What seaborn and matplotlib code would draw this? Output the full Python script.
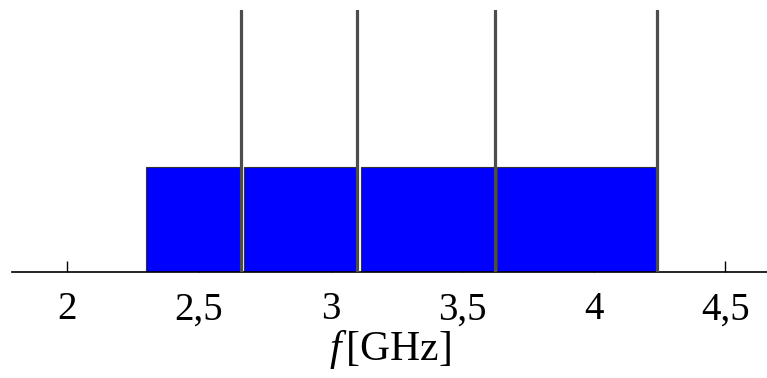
import matplotlib
matplotlib.use("Agg")
import matplotlib.pyplot as plt
import seaborn as sns
import pandas as pd

# Data (GHz)
band_start = [2.30, 2.673, 3.116, 3.634]
band_end = [2.658, 3.10, 3.626, 4.24]
band_level = [0.4, 0.4, 0.4, 0.4]
boundaries = [2.658, 3.10, 3.626, 4.24]
tick_values = [2.0, 2.5, 3.0, 3.5, 4.0, 4.5]
tick_labels = ["2", "2,5", "3", "3,5", "4", "4,5"]

df = pd.DataFrame({"start": band_start, "end": band_end, "level": band_level})
df["width"] = df["end"] - df["start"]

sns.set_theme(style="white")
plt.rcParams["font.family"] = ["Liberation Serif", "DejaVu Serif"]
plt.rcParams["mathtext.fontset"] = "custom"
plt.rcParams["mathtext.it"] = "Liberation Serif:italic"
plt.rcParams["mathtext.rm"] = "Liberation Serif"
plt.rcParams["text.color"] = "black"
plt.rcParams["xtick.color"] = "black"
plt.rcParams["axes.labelcolor"] = "black"

fig = plt.figure(figsize=(7.67, 3.78), dpi=100)
ax = fig.add_axes([12 / 767, 106 / 378, 755 / 767, 262 / 378])

ax.bar(df["start"], df["level"], width=df["width"], align="edge",
       color="#0000ff", edgecolor="#333333", linewidth=0.8, zorder=2)
for b in boundaries:
    ax.axvline(b, ymin=0, ymax=1, color="#4d4d4d", linewidth=2.3, zorder=3)

ax.set_xlim(1.79, 4.658)
ax.set_ylim(0, 1)
ax.set_yticks([])
ax.set_xticks(tick_values)
ax.set_xticklabels(tick_labels, fontsize=28, color="black")
ax.tick_params(axis="x", direction="in", length=8, width=1, color="black",
               pad=14, bottom=True)
for s in ["top", "right", "left"]:
    ax.spines[s].set_visible(False)
ax.spines["bottom"].set_color("black")
ax.spines["bottom"].set_linewidth(1.2)
ax.set_xlabel("$f\\,$[GHz]", fontsize=30, labelpad=0, color="black")

fig.savefig("out.png", dpi=100)
